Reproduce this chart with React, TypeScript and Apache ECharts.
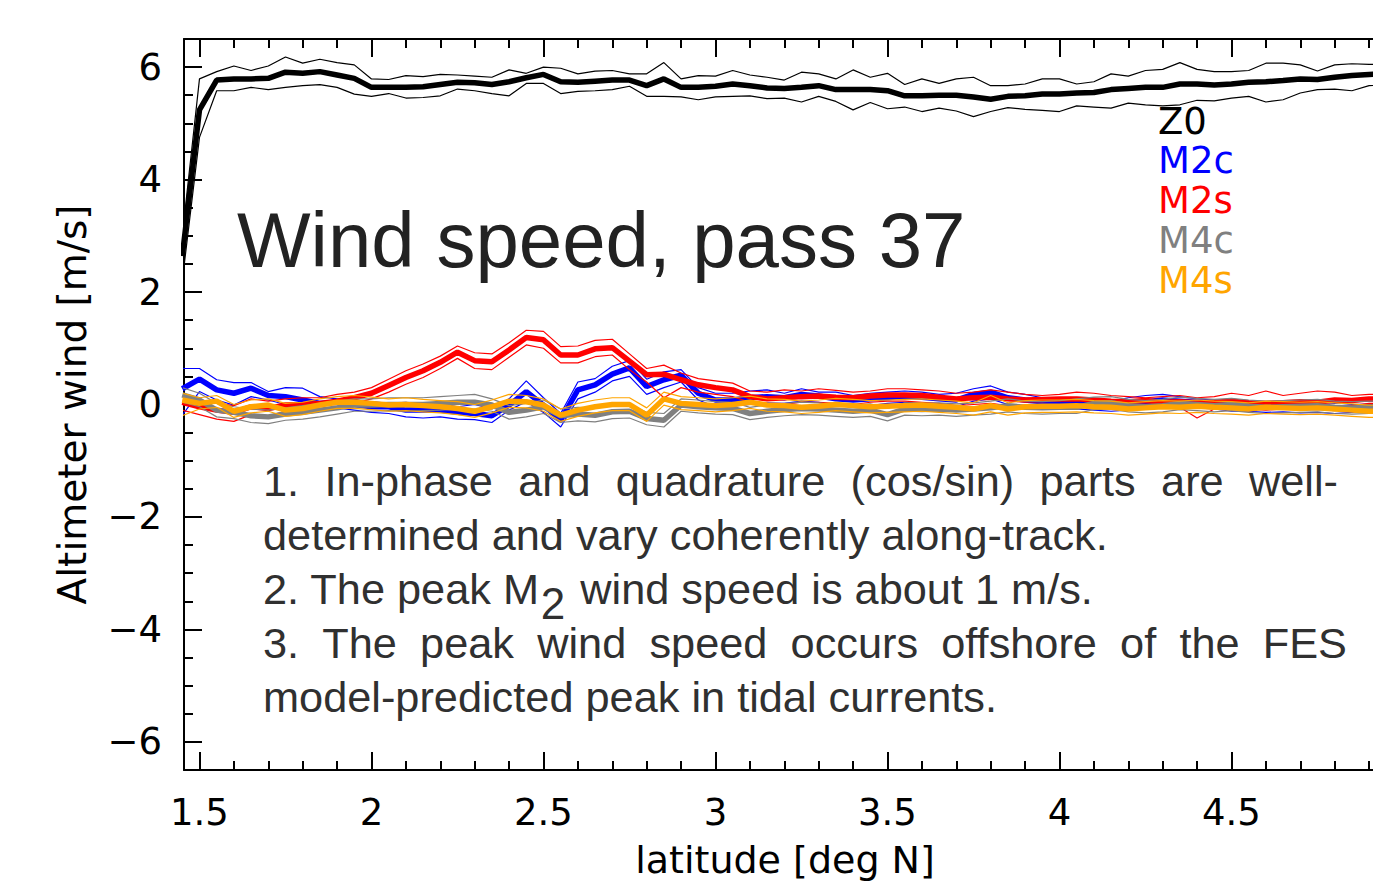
import React, { useEffect, useRef } from "react";
import * as echarts from "echarts";

const lat = [1.45, 1.5, 1.55, 1.6, 1.65, 1.7, 1.75, 1.8, 1.85, 1.9, 1.95, 2, 2.05, 2.1, 2.15, 2.2, 2.25, 2.3, 2.35, 2.4, 2.45, 2.5, 2.55, 2.6, 2.65, 2.7, 2.75, 2.8, 2.85, 2.9, 2.95, 3, 3.05, 3.1, 3.15, 3.2, 3.25, 3.3, 3.35, 3.4, 3.45, 3.5, 3.55, 3.6, 3.65, 3.7, 3.75, 3.8, 3.85, 3.9, 3.95, 4, 4.05, 4.1, 4.15, 4.2, 4.25, 4.3, 4.35, 4.4, 4.45, 4.5, 4.55, 4.6, 4.65, 4.7, 4.75, 4.8, 4.85, 4.9, 4.95];

const z0 = [2.64, 5.24, 5.77, 5.79, 5.79, 5.80, 5.91, 5.89, 5.92, 5.86,
  5.80, 5.64, 5.64, 5.64, 5.65, 5.69, 5.73, 5.72, 5.69, 5.74,
  5.81, 5.87, 5.74, 5.73, 5.75, 5.77, 5.77, 5.67, 5.79, 5.64,
  5.64, 5.66, 5.70, 5.67, 5.63, 5.62, 5.64, 5.67, 5.60, 5.60,
  5.60, 5.58, 5.49, 5.49, 5.50, 5.50, 5.47, 5.43, 5.48, 5.49,
  5.52, 5.52, 5.54, 5.55, 5.60, 5.62, 5.64, 5.64, 5.70, 5.70,
  5.68, 5.70, 5.73, 5.74, 5.76, 5.79, 5.78, 5.82, 5.85, 5.87, 5.88];
const z0Upper = [3.00, 5.79, 5.92, 6.02, 5.94, 6.02, 6.18, 6.07, 6.14, 6.08,
  6.04, 5.79, 5.78, 5.85, 5.83, 5.87, 5.86, 5.84, 5.82, 5.95,
  5.89, 6.00, 5.98, 5.88, 5.93, 5.94, 5.88, 5.88, 6.08, 5.79,
  5.85, 5.84, 5.94, 5.86, 5.82, 5.77, 5.91, 5.88, 5.79, 5.95,
  5.82, 5.89, 5.69, 5.79, 5.71, 5.79, 5.82, 5.67, 5.67, 5.70,
  5.79, 5.79, 5.70, 5.74, 5.88, 5.84, 5.94, 5.96, 6.08, 5.96,
  5.92, 5.92, 5.94, 6.07, 6.07, 6.04, 5.93, 6.04, 6.06, 6.05, 6.05];
const z0Lower = [2.20, 4.75, 5.58, 5.58, 5.64, 5.60, 5.64, 5.67, 5.69, 5.64,
  5.52, 5.48, 5.53, 5.45, 5.46, 5.49, 5.61, 5.58, 5.53, 5.49,
  5.71, 5.71, 5.53, 5.57, 5.58, 5.60, 5.66, 5.48, 5.48, 5.47,
  5.42, 5.47, 5.48, 5.49, 5.44, 5.45, 5.38, 5.48, 5.39, 5.24,
  5.37, 5.26, 5.29, 5.21, 5.27, 5.22, 5.12, 5.21, 5.28, 5.25,
  5.23, 5.21, 5.31, 5.29, 5.27, 5.36, 5.33, 5.31, 5.33, 5.41,
  5.40, 5.45, 5.48, 5.38, 5.42, 5.54, 5.60, 5.61, 5.58, 5.67, 5.70];

const m2c = [0.28, 0.45, 0.26, 0.20, 0.29, 0.16, 0.14, 0.08, 0.02, 0.04,
  0.00, -0.04, -0.04, -0.10, -0.10, -0.10, -0.14, -0.16, -0.20, -0.01,
  0.23, -0.01, -0.28, 0.26, 0.35, 0.54, 0.65, 0.32, 0.44, 0.52,
  0.20, 0.08, 0.08, 0.12, 0.14, 0.12, 0.18, 0.15, 0.10, 0.08,
  0.10, 0.12, 0.15, 0.13, 0.10, 0.08, 0.18, 0.22, 0.12, 0.08,
  0.05, 0.04, 0.02, 0.00, -0.02, 0.00, 0.05, 0.08, 0.06, 0.04,
  0.02, -0.02, -0.03, -0.05, -0.04, -0.06, -0.05, -0.07, -0.04, -0.03, -0.03];
const m2cUpper = [0.64, 0.64, 0.44, 0.39, 0.39, 0.23, 0.30, 0.29, 0.14, 0.10,
  0.06, 0.05, 0.02, 0.04, 0.00, 0.02, -0.04, 0.00, -0.08, 0.10,
  0.42, 0.12, -0.16, 0.40, 0.46, 0.68, 0.78, 0.45, 0.58, 0.62,
  0.30, 0.20, 0.20, 0.24, 0.26, 0.20, 0.28, 0.22, 0.22, 0.16,
  0.20, 0.22, 0.24, 0.22, 0.18, 0.20, 0.28, 0.33, 0.22, 0.18,
  0.12, 0.10, 0.10, 0.08, 0.06, 0.12, 0.16, 0.18, 0.14, 0.10,
  0.08, 0.06, 0.05, 0.04, 0.05, 0.03, 0.05, 0.02, 0.05, 0.06, 0.06];
const m2cLower = [-0.19, 0.23, 0.08, -0.01, 0.14, 0.08, 0.00, -0.02, -0.08, -0.06,
  -0.10, -0.14, -0.16, -0.22, -0.24, -0.22, -0.26, -0.27, -0.32, -0.10,
  0.05, -0.14, -0.40, 0.10, 0.22, 0.42, 0.50, 0.18, 0.30, 0.40,
  0.08, -0.04, -0.03, 0.00, 0.03, 0.02, 0.06, 0.04, -0.02, -0.04,
  -0.02, 0.02, 0.04, 0.02, -0.02, -0.04, 0.06, 0.10, 0.00, -0.04,
  -0.06, -0.08, -0.08, -0.10, -0.12, -0.10, -0.06, -0.02, -0.04, -0.06,
  -0.08, -0.12, -0.12, -0.14, -0.13, -0.15, -0.14, -0.16, -0.14, -0.12, -0.12];

const m2s = [0.04, -0.04, -0.10, -0.14, -0.04, -0.07, -0.01, 0.00, 0.02, 0.06,
  0.12, 0.20, 0.34, 0.48, 0.60, 0.75, 0.93, 0.78, 0.76, 0.97,
  1.19, 1.15, 0.88, 0.88, 0.99, 1.01, 0.77, 0.53, 0.54, 0.44,
  0.35, 0.30, 0.26, 0.14, 0.10, 0.12, 0.14, 0.15, 0.13, 0.12,
  0.15, 0.17, 0.17, 0.16, 0.13, 0.10, 0.12, 0.13, 0.10, 0.08,
  0.09, 0.10, 0.10, 0.08, 0.06, 0.05, 0.07, 0.04, 0.05, 0.03,
  0.04, 0.06, 0.03, 0.02, 0.03, 0.05, 0.04, 0.08, 0.07, 0.10, 0.10];
const m2sUpper = [0.18, 0.08, 0.02, -0.02, 0.10, 0.06, 0.10, 0.12, 0.12, 0.18,
  0.22, 0.30, 0.45, 0.60, 0.72, 0.86, 1.04, 0.92, 0.90, 1.10,
  1.32, 1.30, 1.03, 1.04, 1.14, 1.16, 0.90, 0.64, 0.70, 0.56,
  0.46, 0.42, 0.38, 0.24, 0.22, 0.26, 0.24, 0.28, 0.25, 0.22,
  0.24, 0.28, 0.28, 0.26, 0.24, 0.20, 0.22, 0.26, 0.22, 0.18,
  0.16, 0.18, 0.22, 0.20, 0.16, 0.14, 0.12, 0.14, 0.16, 0.12,
  0.14, 0.20, 0.16, 0.24, 0.16, 0.20, 0.24, 0.22, 0.16, 0.18, 0.18];
const m2sLower = [-0.10, -0.18, -0.26, -0.30, -0.18, -0.20, -0.12, -0.10, -0.08, -0.04,
  0.02, 0.10, 0.22, 0.36, 0.48, 0.64, 0.82, 0.64, 0.62, 0.84,
  1.06, 1.00, 0.74, 0.74, 0.85, 0.88, 0.62, 0.40, 0.12, 0.30,
  0.22, 0.18, 0.14, 0.04, 0.00, 0.00, 0.04, 0.04, 0.02, 0.00,
  0.04, 0.06, 0.06, 0.04, 0.02, -0.02, 0.00, 0.02, -0.02, -0.04,
  -0.02, -0.02, -0.02, -0.04, -0.06, -0.08, -0.04, -0.06, -0.05, -0.24,
  -0.08, -0.06, -0.08, -0.10, -0.08, -0.06, -0.08, -0.02, -0.02, 0.02, 0.02];

const m4c = [0.17, 0.08, -0.10, -0.14, -0.20, -0.22, -0.17, -0.14, -0.10, -0.06,
  -0.01, -0.01, 0.00, 0.00, 0.00, 0.02, 0.04, 0.04, -0.01, -0.14,
  -0.10, -0.04, -0.20, -0.17, -0.19, -0.13, -0.12, -0.25, -0.28, -0.01,
  -0.04, -0.06, -0.07, -0.16, -0.12, -0.09, -0.07, -0.08, -0.10, -0.12,
  -0.10, -0.18, -0.08, -0.09, -0.08, -0.10, -0.08, -0.06, -0.02, -0.05,
  -0.06, -0.05, -0.05, 0.02, 0.03, -0.02, -0.04, -0.02, 0.02, 0.00,
  -0.02, 0.00, -0.03, -0.05, -0.04, -0.03, -0.02, -0.05, -0.06, -0.05, -0.05];
const m4cUpper = [0.30, 0.20, 0.02, -0.04, -0.08, -0.10, -0.06, -0.02, 0.02, 0.06,
  0.10, 0.10, 0.12, 0.12, 0.12, 0.14, 0.16, 0.18, 0.10, -0.02,
  0.02, 0.08, -0.08, -0.05, -0.06, 0.00, 0.00, -0.14, -0.16, 0.10,
  0.08, 0.05, 0.04, -0.05, -0.01, 0.02, 0.04, 0.03, 0.00, -0.02,
  0.01, -0.07, 0.03, 0.02, 0.03, 0.01, 0.03, 0.06, 0.10, 0.06,
  0.05, 0.07, 0.10, 0.13, 0.14, 0.09, 0.07, 0.09, 0.13, 0.11,
  0.09, 0.11, 0.08, 0.06, 0.07, 0.08, 0.09, 0.06, 0.05, 0.06, 0.06];
const m4cLower = [0.04, -0.04, -0.22, -0.25, -0.32, -0.34, -0.28, -0.26, -0.22, -0.17,
  -0.12, -0.12, -0.11, -0.12, -0.11, -0.10, -0.08, -0.08, -0.12, -0.26,
  -0.22, -0.16, -0.32, -0.29, -0.31, -0.25, -0.24, -0.36, -0.40, -0.12,
  -0.15, -0.17, -0.18, -0.27, -0.23, -0.20, -0.18, -0.19, -0.21, -0.23,
  -0.21, -0.29, -0.19, -0.20, -0.19, -0.21, -0.19, -0.17, -0.13, -0.16,
  -0.17, -0.16, -0.16, -0.09, -0.08, -0.13, -0.15, -0.13, -0.09, -0.11,
  -0.13, -0.11, -0.14, -0.16, -0.15, -0.14, -0.13, -0.16, -0.17, -0.16, -0.16];

const m4s = [0.08, 0.02, 0.06, -0.12, -0.04, -0.01, -0.10, -0.07, -0.01, 0.04,
  0.04, 0.02, -0.01, 0.00, -0.02, -0.04, -0.07, -0.12, -0.04, 0.06,
  0.05, -0.01, -0.19, -0.10, -0.04, 0.00, 0.00, -0.19, 0.10, 0.02,
  0.00, -0.02, 0.00, 0.04, -0.01, -0.02, -0.05, -0.03, 0.00, -0.02,
  -0.04, -0.03, -0.02, -0.01, -0.03, -0.05, -0.08, -0.02, -0.08, -0.04,
  -0.03, -0.03, -0.02, -0.04, -0.05, -0.08, -0.06, -0.04, -0.05, -0.03,
  -0.05, -0.06, -0.08, -0.05, -0.06, -0.07, -0.06, -0.08, -0.10, -0.12, -0.12];
const m4sUpper = [0.20, 0.12, 0.16, 0.00, 0.08, 0.10, 0.02, 0.04, 0.10, 0.14,
  0.16, 0.13, 0.10, 0.12, 0.09, 0.07, 0.05, 0.00, 0.08, 0.18,
  0.16, 0.10, -0.08, 0.02, 0.08, 0.12, 0.12, -0.06, 0.22, 0.14,
  0.12, 0.10, 0.12, 0.15, 0.10, 0.09, 0.06, 0.08, 0.11, 0.09,
  0.07, 0.08, 0.09, 0.10, 0.08, 0.06, 0.03, 0.16, 0.03, 0.07,
  0.08, 0.08, 0.09, 0.07, 0.06, 0.03, 0.05, 0.07, 0.06, 0.08,
  0.06, 0.05, 0.03, 0.06, 0.05, 0.04, 0.05, 0.03, 0.01, -0.01, -0.01];
const m4sLower = [-0.20, -0.08, -0.05, -0.23, -0.15, -0.12, -0.21, -0.18, -0.12, -0.07,
  -0.07, -0.09, -0.12, -0.11, -0.13, -0.15, -0.18, -0.23, -0.15, -0.05,
  -0.06, -0.12, -0.30, -0.21, -0.15, -0.11, -0.11, -0.30, -0.01, -0.09,
  -0.11, -0.13, -0.11, -0.07, -0.12, -0.13, -0.16, -0.14, -0.11, -0.13,
  -0.15, -0.14, -0.13, -0.12, -0.14, -0.16, -0.19, -0.13, -0.19, -0.15,
  -0.14, -0.14, -0.13, -0.15, -0.16, -0.19, -0.17, -0.15, -0.16, -0.14,
  -0.16, -0.17, -0.19, -0.16, -0.17, -0.18, -0.17, -0.19, -0.21, -0.23, -0.23];

const xMajor = [1.5, 2, 2.5, 3, 3.5, 4, 4.5];
const xMinor = [1.5, 1.6, 1.7, 1.8, 1.9, 2, 2.1, 2.2, 2.3, 2.4, 2.5, 2.6, 2.7, 2.8, 2.9, 3, 3.1, 3.2, 3.3, 3.4, 3.5, 3.6, 3.7, 3.8, 3.9, 4, 4.1, 4.2, 4.3, 4.4, 4.5, 4.6, 4.7, 4.8, 4.9];
const yMajor = [-6, -4, -2, 0, 2, 4, 6];
const yMinor = [-6.5, -6, -5.5, -5, -4.5, -4, -3.5, -3, -2.5, -2, -1.5, -1, -0.5, 0, 0.5, 1, 1.5, 2, 2.5, 3, 3.5, 4, 4.5, 5, 5.5, 6, 6.5];

const legendNames = ["Z0", "M2c", "M2s", "M4c", "M4s"];
const legendColors = ["#000000", "#0000ff", "#ff0000", "#808080", "#ffa500"];

const titleText = "Wind speed, pass 37";
const xName = "latitude [deg N]";
const yName = "Altimeter wind [m/s]";
const note1 = ["1.", "In-phase", "and", "quadrature", "(cos/sin)", "parts", "are", "well-"];
const note2 = "determined and vary coherently along-track.";
const note3a = "2. The peak M";
const note3sub = "2";
const note3b = " wind speed is about 1 m/s.";
const note4 = ["3.", "The", "peak", "wind", "speed", "occurs", "offshore", "of", "the", "FES"];
const note5 = "model-predicted peak in tidal currents.";

const X_MIN = 1.455;
const X_MAX = 4.911;
const Y_MIN = -6.5;
const Y_MAX = 6.5;

const NOTE_FONT = 43.3;
const NOTE_FAMILY = "Liberation Sans";
const NOTE_COLOR = "#303030";

let measureCtx: CanvasRenderingContext2D | null = null;
function textWidth(t: string, size: number, family: string) {
  if (!measureCtx) measureCtx = document.createElement("canvas").getContext("2d");
  measureCtx!.font = `${size}px "${family}"`;
  return measureCtx!.measureText(t).width;
}

function txt(text: string, x: number, y: number, size: number, family: string, fill: string, align = "left", extra: any = {}) {
  return {
    type: "text",
    x,
    y,
    ...extra,
    style: {
      text,
      fontSize: size,
      fontFamily: family,
      fill,
      align,
      textAlign: align,
      verticalAlign: "middle",
      textVerticalAlign: "middle",
    },
  };
}

function justified(words: string[], x0: number, x1: number, y: number) {
  const widths = words.map((w) => textWidth(w, NOTE_FONT, NOTE_FAMILY));
  const total = widths.reduce((a, b) => a + b, 0);
  const gap = (x1 - x0 - total) / (words.length - 1);
  let x = x0;
  return words.map((w, i) => {
    const el = txt(w, x, y, NOTE_FONT, NOTE_FAMILY, NOTE_COLOR);
    x += widths[i] + gap;
    return el;
  });
}

export default function App() {
  const ref = useRef<HTMLDivElement>(null);
  useEffect(() => {
    if (!ref.current) return;
    const chart = echarts.init(ref.current, undefined, { renderer: "svg" });

    const all = [
      { mean: z0, up: z0Upper, lo: z0Lower },
      { mean: m2c, up: m2cUpper, lo: m2cLower },
      { mean: m2s, up: m2sUpper, lo: m2sLower },
      { mean: m4c, up: m4cUpper, lo: m4cLower },
      { mean: m4s, up: m4sUpper, lo: m4sLower },
    ];
    const pairs = (ys: number[]) => lat.map((x, i) => [x, ys[i]]);
    const series: any[] = [];
    all.forEach((g, k) => {
      const color = legendColors[k];
      const base = { type: "line", showSymbol: false, symbol: "none", silent: true, clip: true, xAxisIndex: 0, yAxisIndex: 0 };
      series.push({ ...base, name: legendNames[k] + "+", data: pairs(g.up), lineStyle: { color, width: 1.2 }, z: 2 + k });
      series.push({ ...base, name: legendNames[k] + "-", data: pairs(g.lo), lineStyle: { color, width: 1.2 }, z: 2 + k });
      series.push({ ...base, name: legendNames[k], data: pairs(g.mean), lineStyle: { color, width: 5.5 }, z: 2 + k });
    });

    const axisFont = { fontFamily: "DejaVu Sans", fontSize: 37, color: "#000" };
    const tickStyle = { color: "#000", width: 2 };
    const fmt = (v: number) => String(v).replace("-", "\u2212");

    const mkX = (position: string, major: boolean, labels: boolean) => ({
      type: "value",
      position,
      min: X_MIN,
      max: X_MAX,
      axisLine: { show: major, onZero: false, lineStyle: { color: "#000", width: 2 } },
      axisTick: { show: true, inside: true, length: major ? 18 : 9, lineStyle: tickStyle, customValues: major ? xMajor : xMinor },
      axisLabel: labels ? { show: true, customValues: xMajor, margin: 24, ...axisFont, formatter: fmt } : { show: false },
      splitLine: { show: false },
    });
    const mkY = (major: boolean, labels: boolean) => ({
      type: "value",
      position: "left",
      min: Y_MIN,
      max: Y_MAX,
      axisLine: { show: major, onZero: false, lineStyle: { color: "#000", width: 2 } },
      axisTick: { show: true, inside: true, length: major ? 18 : 9, lineStyle: tickStyle, customValues: major ? yMajor : yMinor },
      axisLabel: labels ? { show: true, customValues: yMajor, margin: 22, ...axisFont, formatter: fmt } : { show: false },
      splitLine: { show: false },
    });

    const graphics: any[] = [];
    graphics.push(txt(titleText, 237, 240, 78, "Liberation Sans", "#222222"));
    legendNames.forEach((n, i) => {
      graphics.push(txt(n, 1158, 121 + i * 39.8, 37, "DejaVu Sans", legendColors[i]));
    });
    graphics.push(txt(yName, 72, 404.5, 39, "DejaVu Sans", "#000", "center", { rotation: Math.PI / 2 }));
    graphics.push(txt(xName, 785, 860, 38, "DejaVu Sans", "#000", "center"));

    graphics.push(...justified(note1, 263, 1338, 481));
    graphics.push(txt(note2, 263, 535, NOTE_FONT, NOTE_FAMILY, NOTE_COLOR));
    // line with a lowered "2" (M₂) as one rich text element
    graphics.push({
      type: "text",
      x: 263,
      y: 589,
      style: {
        text: `{n|${note3a}}{s|${note3sub}}{n|${note3b}}`,
        fontSize: NOTE_FONT,
        fontFamily: NOTE_FAMILY,
        fill: NOTE_COLOR,
        align: "left",
        textAlign: "left",
        verticalAlign: "middle",
        textVerticalAlign: "middle",
        rich: {
          n: { fontSize: NOTE_FONT, fontFamily: NOTE_FAMILY, fill: NOTE_COLOR, color: NOTE_COLOR, lineHeight: 44, verticalAlign: "top" },
          s: { fontSize: 44, fontFamily: NOTE_FAMILY, fill: NOTE_COLOR, color: NOTE_COLOR, lineHeight: 28, verticalAlign: "top", padding: [14, 3, 0, 1] },
        },
      },
    });
    graphics.push(...justified(note4, 263, 1347, 643));
    graphics.push(txt(note5, 263, 697, NOTE_FONT, NOTE_FAMILY, NOTE_COLOR));

    chart.setOption({
      animation: false,
      backgroundColor: "#ffffff",
      grid: { left: 184, top: 39, width: (X_MAX - X_MIN) * 344, height: 731, containLabel: false },
      xAxis: [mkX("bottom", true, true), mkX("bottom", false, false), mkX("top", true, false), mkX("top", false, false)],
      yAxis: [mkY(true, true), mkY(false, false)],
      series,
      graphic: { elements: graphics },
    });
    return () => chart.dispose();
  }, []);
  return <div ref={ref} style={{ position: "absolute", left: 0, top: 0, width: 1373, height: 882, background: "#fff" }} />;
}
